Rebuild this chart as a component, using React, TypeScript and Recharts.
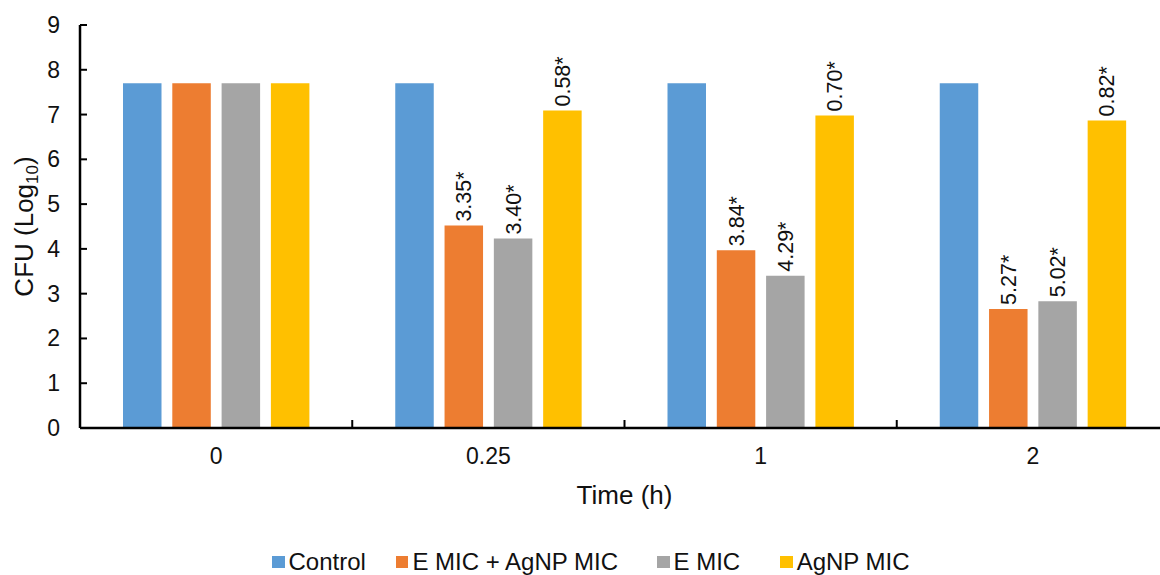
import React from "react";
import { BarChart, Bar, XAxis, YAxis, Legend, LabelList } from "recharts";

const categories = ["0", "0.25", "1", "2"];
const control = [7.7, 7.7, 7.7, 7.7];
const combo = [7.7, 4.52, 3.97, 2.66];
const eMic = [7.7, 4.23, 3.4, 2.83];
const agnp = [7.7, 7.09, 6.98, 6.87];
const comboLabels = ["", "3.35*", "3.84*", "5.27*"];
const eMicLabels = ["", "3.40*", "4.29*", "5.02*"];
const agnpLabels = ["", "0.58*", "0.70*", "0.82*"];
const yTicks = [0, 1, 2, 3, 4, 5, 6, 7, 8, 9];

const seriesNames = ["Control", "E MIC + AgNP MIC", "E MIC", "AgNP MIC"];
const seriesColors = ["#5B9BD5", "#ED7D31", "#A5A5A5", "#FFC000"];

const data = categories.map((c, i) => ({
  time: c,
  control: control[i],
  combo: combo[i],
  eMic: eMic[i],
  agnp: agnp[i],
  comboLabel: comboLabels[i],
  eMicLabel: eMicLabels[i],
  agnpLabel: agnpLabels[i],
}));

const FONT = '"Liberation Sans", Arial, sans-serif';
const TEXT = "#111";
const CHART_W = 1170;
const CHART_H = 575;
const MARGIN = { top: 25, right: 1, bottom: 146, left: 0 };
const Y_W = 80;
const BAND = (CHART_W - MARGIN.left - MARGIN.right - Y_W) / categories.length;
const LEGEND_GAPS = [30, 39, 40, 0];

const XTick = (props: any) => {
  const { x, y, payload, index } = props;
  return (
    <g>
      <text x={x} y={y + 36} textAnchor="middle" fontFamily={FONT} fontSize={23} fill={TEXT}>
        {payload.value}
      </text>
      {index < categories.length - 1 && (
        <line x1={x + BAND / 2} x2={x + BAND / 2} y1={y} y2={y - 8} stroke="#000" strokeWidth={2} />
      )}
    </g>
  );
};

const YTick = (props: any) => {
  const { x, y, payload } = props;
  return (
    <g>
      <line x1={x} x2={x + 7} y1={y} y2={y} stroke="#000" strokeWidth={2} />
      <text x={x - 20} y={y} dy="0.35em" textAnchor="end" fontFamily={FONT} fontSize={23} fill={TEXT}>
        {payload.value}
      </text>
    </g>
  );
};

const RotLabel = (props: any) => {
  const { x, y, width, value } = props;
  if (!value) return null;
  const cx = x + width / 2;
  const sy = y - 4;
  return (
    <text
      x={cx}
      y={sy}
      dy="0.35em"
      transform={`rotate(-90, ${cx}, ${sy})`}
      textAnchor="start"
      fontFamily={FONT}
      fontSize={21.5}
      fill={TEXT}
    >
      {value}
    </text>
  );
};

const YTitle = (props: any) => {
  const vb = props.viewBox || { x: 0, y: 25, width: 80, height: 403 };
  const cx = 33;
  const cy = vb.y + vb.height / 2;
  return (
    <text
      x={cx}
      y={cy}
      transform={`rotate(-90, ${cx}, ${cy})`}
      textAnchor="middle"
      fontFamily={FONT}
      fontSize={26}
      fill={TEXT}
    >
      <tspan>CFU (Log</tspan>
      <tspan fontSize={17} dy={5}>10</tspan>
      <tspan dy={-5}>)</tspan>
    </text>
  );
};

const XTitle = (props: any) => {
  const vb = props.viewBox || { x: 80, y: 428, width: 1089, height: 1 };
  return (
    <text x={vb.x + vb.width / 2} y={vb.y + 76} textAnchor="middle" fontFamily={FONT} fontSize={26} fill={TEXT}>
      Time (h)
    </text>
  );
};

const LegendContent = () => (
  <div
    style={{
      display: "flex",
      alignItems: "center",
      paddingLeft: 272,
      height: 30,
      fontFamily: FONT,
      fontSize: 24,
      color: TEXT,
      whiteSpace: "nowrap",
    }}
  >
    {seriesNames.map((n, i) => (
      <span key={n} style={{ display: "inline-flex", alignItems: "center", marginRight: LEGEND_GAPS[i] }}>
        <span style={{ display: "inline-block", width: 12.5, height: 12.5, background: seriesColors[i], marginRight: 4 }} />
        <span>{n}</span>
      </span>
    ))}
  </div>
);

export default function App() {
  return (
    <div style={{ position: "absolute", left: 0, top: 0, width: 1160, height: 575, overflow: "hidden", background: "#fff" }}>
      <BarChart width={CHART_W} height={CHART_H} data={data} margin={MARGIN} barSize={38.5} barGap={10.8}>
        <XAxis
          dataKey="time"
          height={1}
          axisLine={{ stroke: "#000", strokeWidth: 2.5 }}
          tickLine={false}
          tickSize={0}
          tickMargin={0}
          interval={0}
          tick={<XTick />}
          label={<XTitle />}
        />
        <YAxis
          width={Y_W}
          domain={[0, 9]}
          ticks={yTicks}
          interval={0}
          axisLine={{ stroke: "#000", strokeWidth: 2.5 }}
          tickLine={false}
          tickSize={0}
          tickMargin={0}
          tick={<YTick />}
          label={<YTitle />}
        />
        <Legend
          layout="vertical"
          align="center"
          verticalAlign="middle"
          wrapperStyle={{ top: 547, left: 0, width: 1160, height: 30 }}
          content={<LegendContent />}
        />
        <Bar dataKey="control" name={seriesNames[0]} fill={seriesColors[0]} isAnimationActive={false} />
        <Bar dataKey="combo" name={seriesNames[1]} fill={seriesColors[1]} isAnimationActive={false}>
          <LabelList dataKey="comboLabel" content={<RotLabel />} />
        </Bar>
        <Bar dataKey="eMic" name={seriesNames[2]} fill={seriesColors[2]} isAnimationActive={false}>
          <LabelList dataKey="eMicLabel" content={<RotLabel />} />
        </Bar>
        <Bar dataKey="agnp" name={seriesNames[3]} fill={seriesColors[3]} isAnimationActive={false}>
          <LabelList dataKey="agnpLabel" content={<RotLabel />} />
        </Bar>
      </BarChart>
    </div>
  );
}
